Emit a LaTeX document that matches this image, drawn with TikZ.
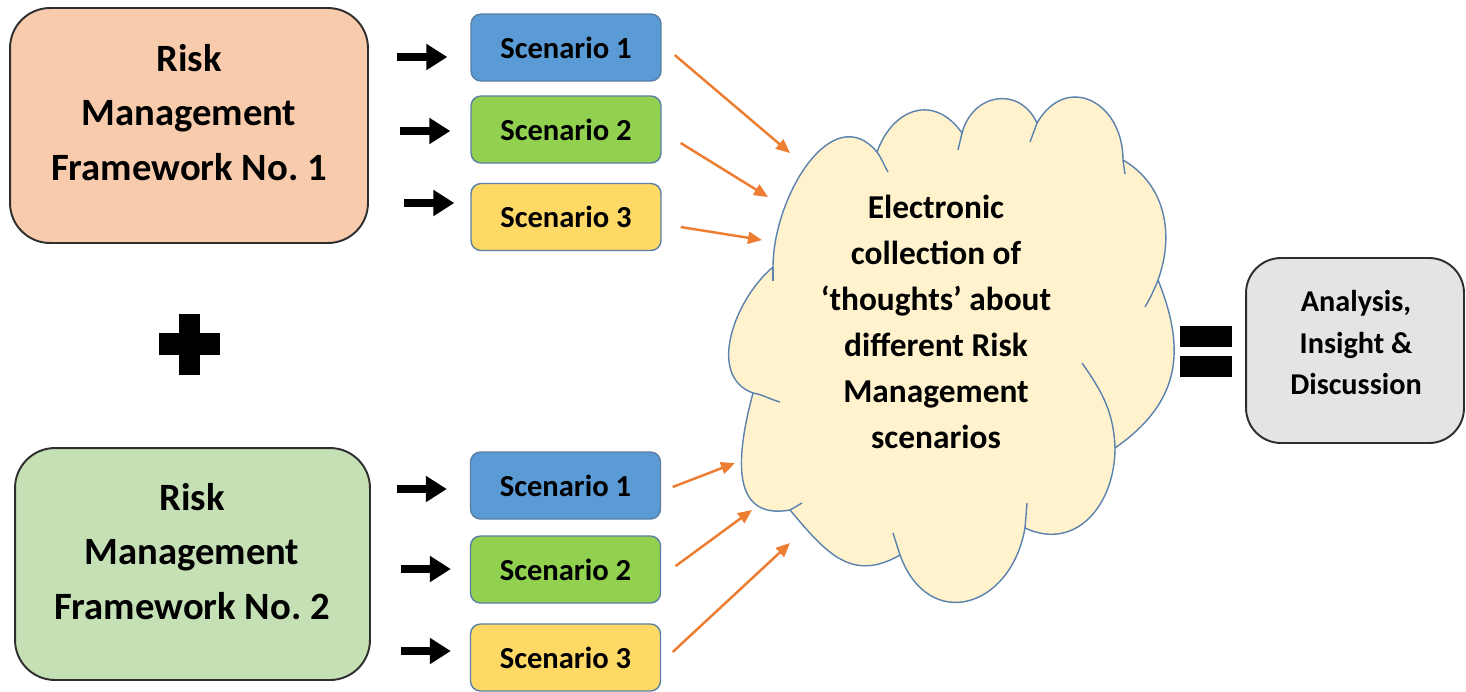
\documentclass[tikz,border=0pt]{standalone}
\usepackage{fontspec}
\setmainfont{Carlito}
\frenchspacing
\usetikzlibrary{arrows.meta,calc}
\definecolor{peach}{HTML}{F8CBAD}
\definecolor{lgreen}{HTML}{C5E0B4}
\definecolor{sblue}{HTML}{5B9BD5}
\definecolor{sgreen}{HTML}{92D050}
\definecolor{syellow}{HTML}{FFD966}
\definecolor{cloudfill}{HTML}{FFF2CC}
\definecolor{cloudline}{HTML}{5A82AE}
\definecolor{sborder}{HTML}{5A7FA3}
\definecolor{rgray}{HTML}{E4E4E4}
\definecolor{oarrow}{HTML}{ED7D31}
\definecolor{dkline}{HTML}{2E2E2E}
\begin{document}
\begin{tikzpicture}[x=0.02cm,y=-0.02cm,
  frame/.style={draw=dkline, line width=1.1pt, rounded corners=0.8cm, minimum width=7.16cm, minimum height=4.7cm, inner sep=0pt},
  frametext/.style={align=center, font=\bfseries\fontsize{22pt}{31pt}\selectfont, inner sep=0pt},
  scen/.style={draw=sborder, line width=0.8pt, rounded corners=0.2cm, minimum width=3.8cm, minimum height=1.34cm, inner sep=0pt, font=\bfseries\fontsize{17.4pt}{20pt}\selectfont},
  rbox/.style={draw=dkline, fill=rgray, line width=1.1pt, rounded corners=0.7cm, minimum width=4.36cm, minimum height=3.7cm, inner sep=0pt},
  rtext/.style={align=center, font=\bfseries\fontsize{17.2pt}{23.5pt}\selectfont, inner sep=0pt},
  cloudshape/.style={draw=cloudline, fill=cloudfill, line width=0.8pt},
  cloudtail/.style={draw=cloudline, line width=0.8pt},
  cloudtext/.style={align=center, font=\bfseries\fontsize{19pt}{26.1pt}\selectfont, inner sep=0pt},
  blk/.style={draw=black, line width=0.16cm, -{Triangle[length=0.42cm,width=0.5cm]}},
  oarr/.style={draw=oarrow, line width=1.4pt, -{Triangle[length=0.28cm,width=0.24cm]}},
  signbar/.style={fill=black}
]
\fill[white] (0,0) rectangle (1466,691);
\useasboundingbox (0,0) rectangle (1466,691);

% frameworks
\node[frame, fill=peach] (f1) at (189,125.5) {};
\node[frametext] (f1t) at (189,112.5) {Risk\\Management\\Framework No. 1};
\node[frame, fill=lgreen, minimum width=7.1cm, minimum height=4.64cm] (f2) at (192.5,564) {};
\node[frametext] (f2t) at (192,551.5) {Risk\\Management\\Framework No. 2};

% scenarios
\node[scen, fill=sblue]   (a1) at (566,47.5) {Scenario 1};
\node[scen, fill=sgreen]  (a2) at (566,129.5) {Scenario 2};
\node[scen, fill=syellow] (a3) at (566,217) {Scenario 3};
\node[scen, fill=sblue]   (b1) at (565.5,485.5) {Scenario 1};
\node[scen, fill=sgreen]  (b2) at (565.5,569.5) {Scenario 2};
\node[scen, fill=syellow] (b3) at (565.5,657.5) {Scenario 3};

% black arrows
\coordinate (k1) at (397,57);
\coordinate (k2) at (400,131);
\coordinate (k3) at (404,203);
\coordinate (k4) at (397,489);
\coordinate (k5) at (401,569);
\coordinate (k6) at (401,651);
\draw[blk, shorten >=0.46cm] (k1) -- (k1 -| a1.west);
\draw[blk, shorten >=0.40cm] (k2) -- (k2 -| a2.west);
\draw[blk, shorten >=0.32cm] (k3) -- (k3 -| a3.west);
\draw[blk, shorten >=0.46cm] (k4) -- (k4 -| b1.west);
\draw[blk, shorten >=0.38cm] (k5) -- (k5 -| b2.west);
\draw[blk, shorten >=0.38cm] (k6) -- (k6 -| b3.west);

% plus and equals
\fill[signbar] (159,333) rectangle (220,355);
\fill[signbar] (179,314) rectangle (200,375);
\fill[signbar] (1180,326) rectangle (1232,347);
\fill[signbar] (1180,356) rectangle (1232,377);

% cloud
\path[cloudshape] (773,267)
  to[out=90,in=130,looseness=1.15] (877,152)
  to[out=70,in=125,looseness=1.4] (962,133)
  to[out=75,in=115,looseness=1.4] (1037,123)
  to[out=60,in=90,looseness=1.6] (1123,160)
  to[out=-30,in=70] (1158,280)
  to[out=-68,in=35,looseness=1.15] (1115,448)
  to[out=-90,in=-25,looseness=1.2] (1025,528)
  to[out=-100,in=-70,looseness=1.65] (900,555)
  to[out=-150,in=-50,looseness=1.2] (790,510)
  to[out=-170,in=-105,looseness=1.3] (753,393)
  to[out=160,in=220] (773,267) -- cycle;
\draw[cloudtail] (773,267) -- (773,281);
\draw[cloudtail] (877,152) to[out=-55,in=120] (888,172);
\draw[cloudtail] (958,150) -- (962,133);
\draw[cloudtail] (1030,142) -- (1037,123);
\draw[cloudtail] (1123,160) -- (1125,174);
\draw[cloudtail] (1158,280) to[out=-112,in=60] (1145,307);
\draw[cloudtail] (1082,363) to[out=-55,in=92] (1115,448);
\draw[cloudtail] (1027,503) -- (1025,528);
\draw[cloudtail] (900,555) -- (893,533);
\draw[cloudtail] (790,510) -- (802,503);
\draw[cloudtail] (753,393) to[out=-10,in=165] (780,402);
\node[cloudtext] (cloud) at (936,322) {Electronic\\collection of\\‘thoughts’ about\\different Risk\\Management\\scenarios};

% orange arrows
\coordinate (o1) at (790,153);
\coordinate (o2) at (768,197);
\coordinate (o3) at (762,240);
\coordinate (o4) at (735,463);
\coordinate (o5) at (752,510);
\coordinate (o6) at (790,543);
\draw[oarr] ([shift={(13,7.5)}]a1.east) -- (o1);
\draw[oarr] ([shift={(19,13.5)}]a2.east) -- (o2);
\draw[oarr] ([shift={(19,10)}]a3.east) -- (o3);
\draw[oarr] ([shift={(11.5,1.5)}]b1.east) -- (o4);
\draw[oarr] ([shift={(14.5,-3.5)}]b2.east) -- (o5);
\draw[oarr] ([shift={(11.5,-5.5)}]b3.east) -- (o6);

% result
\node[rbox] (res) at (1355,350.5) {};
\node[rtext] (rest) at (1356,342.5) {Analysis,\\Insight \&\\Discussion};
\end{tikzpicture}
\end{document}
